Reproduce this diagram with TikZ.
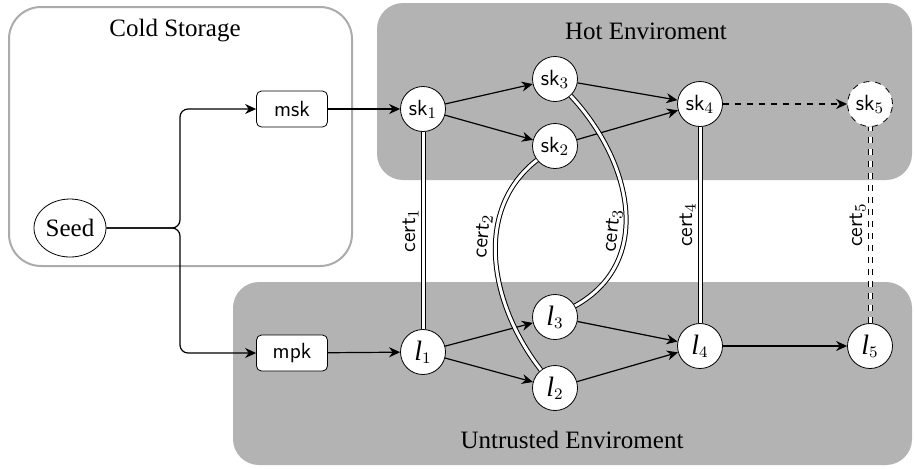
\documentclass[tikz,border=0pt]{standalone}
\usepackage{fontspec}
\setmainfont{Liberation Serif}
\usetikzlibrary{arrows.meta, positioning, shapes.geometric}
\definecolor{envgray}{HTML}{B3B3B3}
\definecolor{coldline}{HTML}{ABABAB}

\newcommand{\skey}[1]{\textsf{sk}$_{#1}$}
\newcommand{\lkey}[1]{{\fontsize{14}{16}\selectfont\textit{l}}$_{#1}$}

\begin{document}
\begin{tikzpicture}[x=0.5pt, y=-0.5pt,
  every node/.style={font=\fontsize{12.5}{14}\selectfont},
  region/.style={fill=envgray, rounded corners=13pt},
  cold/.style={draw=coldline, line width=1pt, rounded corners=16pt},
  key/.style={circle, draw, fill=white, minimum size=22.5pt, inner sep=0pt,
              font=\fontsize{11}{13}\selectfont},
  master/.style={draw, fill=white, rounded corners=2.5pt, minimum width=35.5pt,
                 minimum height=18pt, inner sep=0pt, font=\fontsize{11}{13}\sffamily},
  link/.style={-{Stealth[length=5.5pt, width=5pt]}, line width=0.6pt},
  cert/.style={double, double distance=1.5pt, line width=0.5pt},
  certlbl/.style={font=\fontsize{11}{13}\sffamily, inner sep=2pt},
]
\useasboundingbox (0,0) rectangle (915,468);

\draw[cold] (9,7) rectangle (352,266);
\fill[region] (377,3) rectangle (912,180);
\fill[region] (233,282) rectangle (912,465);

\node (coldtitle)   at (175,31)  {Cold Storage};
\node (hottitle)    at (646,31)  {Hot Enviroment};
\node (untrtitle)   at (572,440) {Untrusted Enviroment};

\node[ellipse, draw, fill=white, minimum width=36pt, minimum height=29pt, inner sep=0pt]
      (seed) at (70,228) {Seed};
\node[master] (msk) at (292,109) {msk};
\node[master] (mpk) at (292,353) {mpk};
\coordinate (split) at (180,228);

\node[key] (sk1) at (423,109) {\skey{1}};
\node[key] (sk3) at (555,79)  {\skey{3}};
\node[key] (sk2) at (555,146) {\skey{2}};
\node[key] (sk4) at (700,104) {\skey{4}};
\node[key, dashed] (sk5) at (870,104) {\skey{5}};

\node[key] (l1) at (423,352) {\lkey{1}};
\node[key] (l3) at (555,317) {\lkey{3}};
\node[key] (l2) at (555,388) {\lkey{2}};
\node[key] (l4) at (700,346) {\lkey{4}};
\node[key] (l5) at (870,346) {\lkey{5}};

\draw[link, rounded corners=4pt] (seed.east) -- (split) |- (msk.west);
\draw[link, rounded corners=4pt] (seed.east) -- (split) |- (mpk.west);
\draw[link] (msk) -- (sk1);
\draw[link] (mpk) -- (l1);

\draw[link] (sk1) -- (sk3);
\draw[link] (sk1) -- (sk2);
\draw[link] (sk3) -- (sk4);
\draw[link] (sk2) -- (sk4);
\draw[link, dashed] (sk4) -- (sk5);

\draw[link] (l1) -- (l3);
\draw[link] (l1) -- (l2);
\draw[link] (l3) -- (l4);
\draw[link] (l2) -- (l4);
\draw[link] (l4) -- (l5);

\draw[cert] (l1) -- (sk1) node[certlbl, midway, sloped, above] {cert$_1$};
\draw[cert] (l2) to[out=128, in=218] node[certlbl, pos=0.6, sloped, above] {cert$_2$} (sk2);
\draw[cert] (l3) to[out=29, in=-47, looseness=1.1] node[certlbl, pos=0.4, sloped, above] {cert$_3$} (sk3);
\draw[cert] (l4) -- (sk4) node[certlbl, midway, sloped, above] {cert$_4$};
\draw[cert, dashed] (l5) -- (sk5) node[certlbl, midway, sloped, above] {cert$_5$};

\end{tikzpicture}
\end{document}
